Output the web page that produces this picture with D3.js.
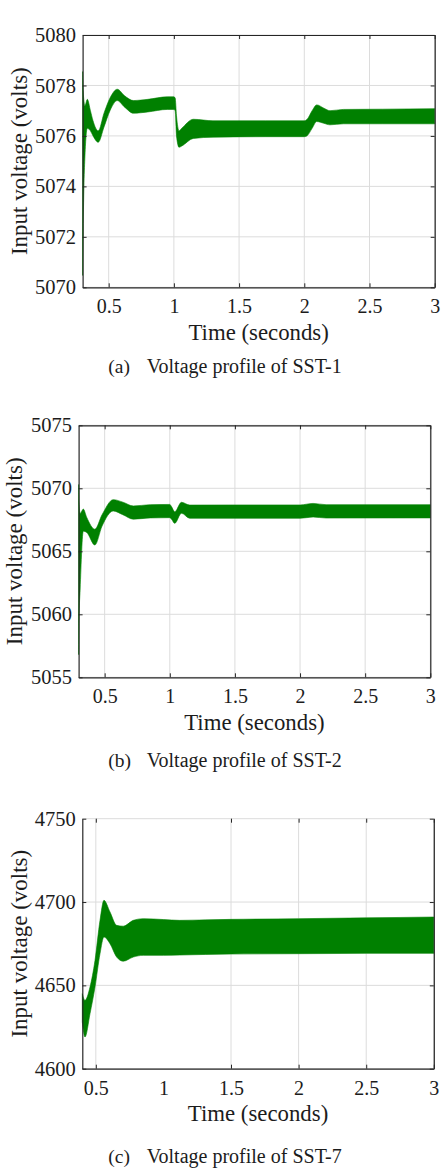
<!DOCTYPE html>
<html><head><meta charset="utf-8">
<script src="https://cdn.jsdelivr.net/npm/d3@7"></script>
<style>
body{margin:0;background:#fff}
svg{display:block}
</style>
</head><body>
<svg id="c" width="442" height="1170"></svg>
<script>
// ---------- data ----------
const xTicks = [0.5, 1, 1.5, 2, 2.5, 3];

const sst1Time  = [0.300, 0.304, 0.318, 0.336, 0.360, 0.380, 0.420, 0.464, 0.510, 0.566, 0.620, 0.690, 0.800, 0.950, 1.000, 1.010, 1.020, 1.040, 1.060, 1.150, 1.300, 1.700, 2.000, 2.020, 2.060, 2.095, 2.150, 2.197, 2.300, 2.600, 3.000];
const sst1Upper = [5078.55, 5077.8, 5077.2, 5077.45, 5077.0, 5076.6, 5076.2, 5076.9, 5077.5, 5077.85, 5077.6, 5077.4, 5077.45, 5077.55, 5077.55, 5077.5, 5076.8, 5076.2, 5076.3, 5076.66, 5076.6, 5076.6, 5076.6, 5076.65, 5077.0, 5077.23, 5077.1, 5077.0, 5077.05, 5077.06, 5077.08];
const sst1Lower = [5070.47, 5072.2, 5075.2, 5076.3, 5076.2, 5076.0, 5075.75, 5076.35, 5077.0, 5077.4, 5077.15, 5076.9, 5076.95, 5077.05, 5077.05, 5077.0, 5076.0, 5075.55, 5075.6, 5075.9, 5075.95, 5075.97, 5075.97, 5076.0, 5076.3, 5076.57, 5076.5, 5076.44, 5076.48, 5076.48, 5076.48];
const sst1YTicks = [5070, 5072, 5074, 5076, 5078, 5080];

const sst2Time  = [0.300, 0.303, 0.312, 0.336, 0.362, 0.425, 0.480, 0.566, 0.640, 0.720, 0.850, 1.000, 1.013, 1.038, 1.090, 1.153, 1.500, 2.000, 2.100, 2.200, 3.000];
const sst2Upper = [5070.3, 5068.95, 5068.0, 5068.35, 5067.7, 5066.75, 5067.9, 5069.1, 5068.9, 5068.6, 5068.7, 5068.72, 5068.55, 5068.14, 5068.89, 5068.67, 5068.68, 5068.68, 5068.8, 5068.7, 5068.7];
const sst2Lower = [5056.8, 5059.5, 5062.0, 5066.6, 5066.5, 5065.5, 5067.0, 5068.2, 5067.9, 5067.55, 5067.65, 5067.67, 5067.55, 5067.22, 5068.02, 5067.62, 5067.62, 5067.62, 5067.72, 5067.64, 5067.65];
const sst2YTicks = [5055, 5060, 5065, 5070, 5075];

const sst7Time  = [0.400, 0.420, 0.457, 0.494, 0.531, 0.560, 0.605, 0.654, 0.703, 0.777, 0.851, 1.000, 1.120, 1.500, 2.000, 2.500, 3.000];
const sst7Upper = [4645, 4641, 4649, 4665, 4689, 4701, 4694, 4686, 4685.5, 4689, 4690, 4689.5, 4689, 4689.6, 4690, 4690.5, 4691];
const sst7Lower = [4628, 4619, 4633, 4649, 4669, 4679, 4675, 4667, 4664.5, 4667, 4668, 4668, 4668.2, 4668.8, 4669, 4669.2, 4669.2];
const sst7YTicks = [4600, 4650, 4700, 4750];

const captionTags  = ["(a)", "(b)", "(c)"];
const captionTexts = ["Voltage profile of SST-1", "Voltage profile of SST-2", "Voltage profile of SST-7"];
const yLabel = "Input voltage (volts)";
const xLabel = "Time (seconds)";

// ---------- layout ----------
const panels = [
  {time: sst1Time, upper: sst1Upper, lower: sst1Lower, yTicks: sst1YTicks,
   xDom: [0.3, 3], yDom: [5070, 5080], L: 82.6, R: 434.7, T: 35, B: 287.3,
   topBorder: true, skipX: [], yLabX: 27, capY: 372.5},
  {time: sst2Time, upper: sst2Upper, lower: sst2Lower, yTicks: sst2YTicks,
   xDom: [0.3, 3], yDom: [5055, 5075], L: 78.6, R: 430.3, T: 425.3, B: 677.3,
   topBorder: true, skipX: [], yLabX: 22, capY: 767},
  {time: sst7Time, upper: sst7Upper, lower: sst7Lower, yTicks: sst7YTicks,
   xDom: [0.4, 3], yDom: [4600, 4750], L: 82.3, R: 433.8, T: 818.7, B: 1068.7,
   topBorder: false, skipX: [1], yLabX: 27, capY: 1163}
];

const FONT = "'Liberation Serif', 'Times New Roman', serif";
const TXT = "#1c1c1c";
const svg = d3.select("#c");
const green = "#008000";
const gridCol = "#dcdcdc";
const axisCol = "#262626";

panels.forEach((p, i) => {
  const x = d3.scaleLinear().domain(p.xDom).range([p.L, p.R]);
  const y = d3.scaleLinear().domain(p.yDom).range([p.B, p.T]);
  const g = svg.append("g");
  const gridX = xTicks.filter(v => !p.skipX.includes(v));

  // grid
  g.append("g").selectAll("line").data(gridX).join("line")
    .attr("x1", d => x(d)).attr("x2", d => x(d))
    .attr("y1", p.T).attr("y2", p.B)
    .attr("stroke", gridCol).attr("stroke-width", 1);
  g.append("g").selectAll("line").data(p.yTicks).join("line")
    .attr("x1", p.L).attr("x2", p.R)
    .attr("y1", d => y(d)).attr("y2", d => y(d))
    .attr("stroke", gridCol).attr("stroke-width", 1);

  // data band
  const idx = d3.range(p.time.length);
  const area = d3.area()
    .curve(d3.curveMonotoneX)
    .x(k => x(p.time[k]))
    .y0(k => y(p.lower[k]))
    .y1(k => y(p.upper[k]));
  g.append("path").datum(idx).attr("d", area)
    .attr("fill", green).attr("stroke", green).attr("stroke-width", 0.6);

  // axes
  const left = d3.axisLeft(y).tickValues(p.yTicks).tickSize(-4).tickSizeOuter(0).tickPadding(6.5).tickFormat(d3.format("d"));
  const right = d3.axisRight(y).tickValues(p.yTicks).tickSize(-4).tickSizeOuter(0).tickFormat("");
  const bottomLab = d3.axisBottom(x).tickValues(xTicks).tickSize(0).tickSizeOuter(0).tickFormat(d => d3.format("")(d));
  const bottomTk = d3.axisBottom(x).tickValues(gridX).tickSize(-4).tickSizeOuter(0).tickFormat("");
  const topTk = d3.axisTop(x).tickValues(gridX).tickSize(-4).tickSizeOuter(0).tickFormat("");

  const gl = g.append("g").attr("transform", `translate(${p.L},0)`).call(left);
  gl.selectAll("text").style("font-family", FONT).style("font-size", "20.5px").attr("fill", TXT);
  g.append("g").attr("transform", `translate(${p.R},0)`).call(right);
  const gb = g.append("g").attr("transform", `translate(0,${p.B})`).call(bottomLab);
  gb.select(".domain").remove();
  gb.selectAll("text").style("font-family", FONT).style("font-size", "20px").attr("dy", 0).attr("y", 26).attr("fill", TXT);
  g.append("g").attr("transform", `translate(0,${p.B})`).call(bottomTk);
  const gt = g.append("g").attr("transform", `translate(0,${p.T})`).call(topTk);
  if (!p.topBorder) gt.select(".domain").remove();
  g.selectAll(".domain").attr("stroke", axisCol).attr("stroke-width", 1.2);
  g.selectAll(".tick line").attr("stroke", axisCol);

  // labels
  g.append("text")
    .attr("transform", `translate(${p.yLabX},${(p.T + p.B) / 2}) rotate(-90)`)
    .attr("text-anchor", "middle")
    .style("font-family", FONT).style("font-size", "23px").attr("fill", TXT)
    .text(yLabel);
  g.append("text")
    .attr("x", (p.L + p.R) / 2).attr("y", p.B + 52.7)
    .attr("text-anchor", "middle")
    .style("font-family", FONT).style("font-size", "22.8px").attr("fill", TXT)
    .text(xLabel);
  g.append("text").attr("x", 108.3).attr("y", p.capY)
    .style("font-family", FONT).style("font-size", "19.5px").attr("fill", TXT)
    .text(captionTags[i]);
  g.append("text").attr("x", 146.7).attr("y", p.capY)
    .style("font-family", FONT).style("font-size", "20px").attr("fill", TXT)
    .text(captionTexts[i]);
});
</script>
</body></html>
